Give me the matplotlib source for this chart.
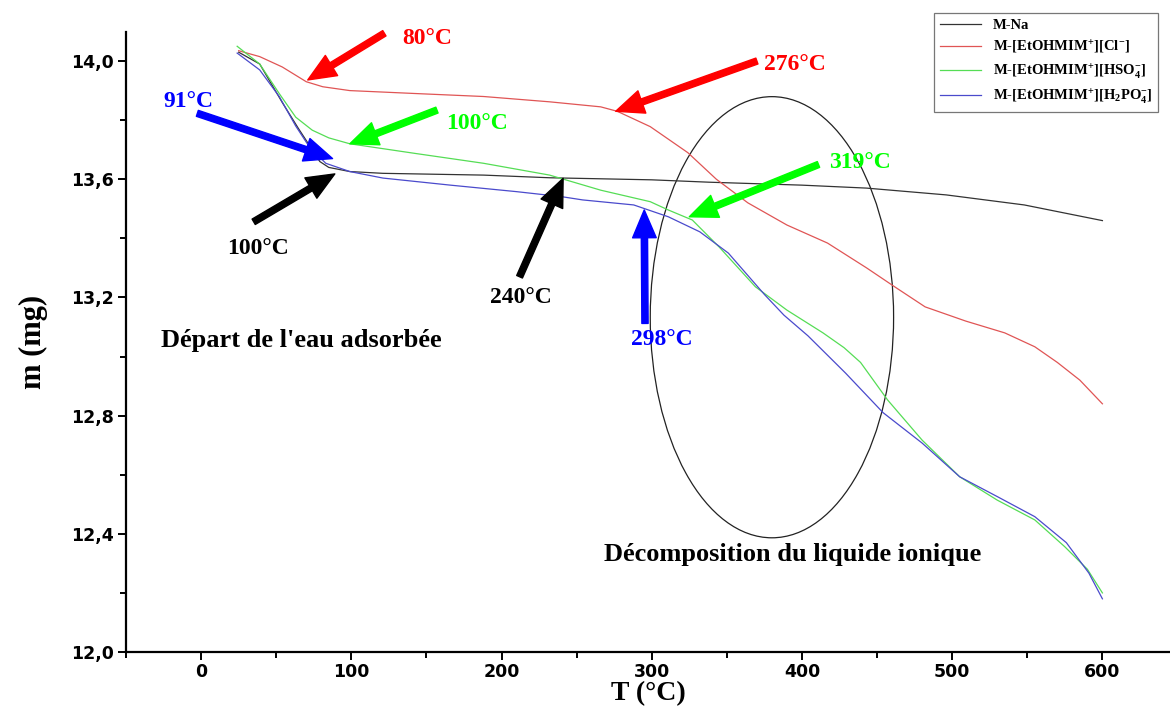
import matplotlib

matplotlib.use("Agg")
import matplotlib.pyplot as plt
from matplotlib.patches import Ellipse
from matplotlib.ticker import FuncFormatter, MultipleLocator

# TGA curves: temperature (°C) and mass (mg)
T_na = [25, 39, 54, 65, 74, 79, 85, 99, 121, 188, 232, 300, 338, 400, 443, 496, 548, 600]
m_na = [14.03, 13.99, 13.86, 13.77, 13.70, 13.66, 13.64, 13.626, 13.62, 13.614, 13.605,
        13.598, 13.59, 13.58, 13.57, 13.547, 13.513, 13.46]

T_cl = [25, 39, 54, 70, 81, 99, 143, 188, 232, 266, 277, 299, 324, 343, 364, 390, 417,
        443, 462, 482, 509, 535, 555, 570, 585, 600]
m_cl = [14.035, 14.015, 13.98, 13.93, 13.913, 13.90, 13.89, 13.88, 13.862, 13.845, 13.83,
        13.778, 13.69, 13.60, 13.52, 13.445, 13.384, 13.30, 13.235, 13.168, 13.12, 13.08,
        13.033, 12.98, 12.92, 12.84]

T_hso = [24, 39, 52, 63, 74, 85, 99, 143, 188, 232, 266, 299, 311, 327, 345, 369, 390,
         414, 428, 439, 457, 480, 505, 530, 555, 575, 590, 600]
m_hso = [14.05, 13.99, 13.89, 13.81, 13.766, 13.74, 13.72, 13.687, 13.654, 13.614, 13.563,
         13.524, 13.496, 13.462, 13.37, 13.236, 13.157, 13.08, 13.03, 12.98, 12.853, 12.717,
         12.593, 12.514, 12.447, 12.356, 12.28, 12.20]

T_hpo = [24, 39, 52, 63, 72, 83, 99, 121, 166, 210, 240, 254, 288, 311, 332, 351, 375,
         388, 404, 429, 454, 480, 505, 530, 555, 576, 591, 600]
m_hpo = [14.027, 13.97, 13.88, 13.78, 13.71, 13.654, 13.626, 13.604, 13.58, 13.558,
         13.541, 13.53, 13.513, 13.473, 13.422, 13.35, 13.21, 13.14, 13.07, 12.944, 12.81,
         12.707, 12.593, 12.526, 12.458, 12.37, 12.267, 12.18]

labels = [
    "M-Na",
    r"M-[EtOHMIM$^{+}$][Cl$^{-}$]",
    r"M-[EtOHMIM$^{+}$][HSO$_{4}^{-}$]",
    r"M-[EtOHMIM$^{+}$][H$_{2}$PO$_{4}^{-}$]",
]
line_colors = ["#333333", "#e05555", "#55dd55", "#4a4acc"]

# arrows: (tail T, tail m, head T, head m, colour)
arrows = [
    (122, 14.094, 71, 13.936, "#ff0000"),
    (370, 14.0, 276, 13.83, "#ff0000"),
    (-2.5, 13.823, 87.5, 13.67, "#0000ff"),
    (157, 13.834, 99, 13.72, "#00ff00"),
    (35, 13.456, 89, 13.618, "#000000"),
    (212, 13.27, 241, 13.603, "#000000"),
    (295.5, 13.112, 295, 13.496, "#0000ff"),
    (411, 13.65, 325, 13.473, "#00ff00"),
]
# temperature labels: (text, T, m, colour)
temp_labels = [
    ("80°C", 134, 14.078, "#ff0000"),
    ("276°C", 375, 13.99, "#ff0000"),
    ("91°C", -25, 13.863, "#0000ff"),
    ("100°C", 163, 13.79, "#00ff00"),
    ("100°C", 17, 13.367, "#000000"),
    ("240°C", 192, 13.20, "#000000"),
    ("298°C", 286, 13.056, "#0000ff"),
    ("319°C", 418, 13.656, "#00ff00"),
]

plt.rcParams["mathtext.fontset"] = "custom"
plt.rcParams["mathtext.rm"] = "Liberation Serif:bold"
plt.rcParams["mathtext.it"] = "Liberation Serif:bold"
plt.rcParams["mathtext.bf"] = "Liberation Serif:bold"

fig = plt.figure(figsize=(11.7, 7.08), dpi=100)
ax = fig.add_axes([126 / 1170, 1 - 652 / 708, 1 - 126 / 1170, (652 - 31.5) / 708])

series = [(T_na, m_na), (T_cl, m_cl), (T_hso, m_hso), (T_hpo, m_hpo)]
for (t, m), lab, col in zip(series, labels, line_colors):
    ax.plot(t, m, color=col, lw=0.9, label=lab)

for t0, m0, t1, m1, col in arrows:
    ax.annotate("", xy=(t1, m1), xytext=(t0, m0),
                arrowprops=dict(color=col, width=4.5, headwidth=17, headlength=20,
                                shrink=0))

serif = dict(family="Liberation Serif", weight="bold")
for txt, t, m, col in temp_labels:
    ax.text(t, m, txt, color=col, fontsize=17, ha="left", va="center", **serif)

ax.text(-27, 13.054, "Départ de l'eau adsorbée", fontsize=19, ha="left", va="center", **serif)
ax.text(268, 12.33, "Décomposition du liquide ionique", fontsize=19, ha="left",
        va="center", **serif)

ax.add_patch(Ellipse((380, 13.133), 162, 1.493, fill=False, ec="#222222", lw=0.9))

ax.set_xlim(-50, 645)
ax.set_ylim(12.0, 14.1)
ax.xaxis.set_major_locator(MultipleLocator(100))
ax.xaxis.set_minor_locator(MultipleLocator(50))
ax.yaxis.set_major_locator(MultipleLocator(0.4))
ax.yaxis.set_minor_locator(MultipleLocator(0.2))
ax.yaxis.set_major_formatter(FuncFormatter(lambda v, p: f"{v:.1f}".replace(".", ",")))

for s in ("top", "right"):
    ax.spines[s].set_visible(False)
for s in ("left", "bottom"):
    ax.spines[s].set_linewidth(1.6)
ax.tick_params(which="major", direction="out", length=6, width=1.4, pad=3)
ax.tick_params(axis="x", which="major", pad=2)
ax.tick_params(which="minor", direction="out", length=4, width=1.4)
for lbl in ax.get_xticklabels() + ax.get_yticklabels():
    lbl.set_fontfamily("DejaVu Sans")
    lbl.set_fontweight("bold")
    lbl.set_fontsize(12.5)

ax.set_xlabel("T (°C)", fontsize=20, **serif)
ax.xaxis.set_label_coords(0.5, -0.088)
ax.xaxis.label.set_va("bottom")
ax.set_ylabel("m (mg)", fontsize=22, labelpad=16, **serif)

leg = ax.legend(loc="upper right", bbox_to_anchor=(1158 / 1170, 1 - 13 / 708),
                bbox_transform=fig.transFigure, borderaxespad=0, frameon=True,
                fancybox=False, edgecolor="#555555", handlelength=2.8,
                labelspacing=0.45, prop=dict(family="Liberation Serif", weight="bold",
                                             size=10.5))
leg.get_frame().set_linewidth(0.9)

fig.savefig("out.png", dpi=100)
